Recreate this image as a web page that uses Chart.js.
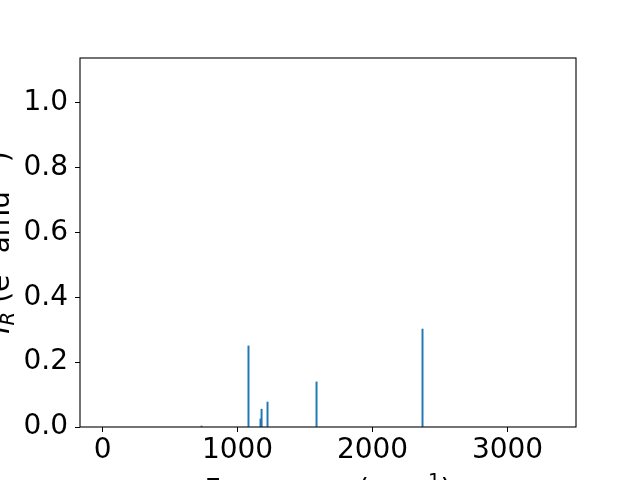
<!DOCTYPE html>
<html>
<head>
<meta charset="utf-8">
<script src="https://cdn.jsdelivr.net/npm/chart.js@4/dist/chart.umd.min.js"></script>
<style>
html,body{margin:0;padding:0;background:#fff;}
canvas{display:block;}
</style>
</head>
<body>
<canvas id="c" width="640" height="480"></canvas>
<script>
// Data
const frequencies = [733, 1081, 1170, 1178, 1222, 1585, 2370];
const intensities = [0.003, 0.250, 0.025, 0.055, 0.077, 0.139, 0.302];
const xTickValues = [0, 1000, 2000, 3000];
const yTickValues = [0, 0.2, 0.4, 0.6, 0.8, 1.0];
const xRange = [-167, 3507];
const yRange = [0, 1.1377];

const FONT = "'DejaVu Sans', sans-serif";
const BLUE = '#1f77b4';

function drawRich(ctx, segs, x, y, rot) {
  ctx.save();
  ctx.translate(x, y);
  if (rot) ctx.rotate(rot);
  ctx.textBaseline = 'alphabetic';
  ctx.textAlign = 'left';
  ctx.fillStyle = '#000';
  let total = 0;
  const ws = segs.map(s => {
    ctx.font = (s.italic ? 'oblique ' : '') + s.size + 'px ' + FONT;
    const w = ctx.measureText(s.t).width;
    total += w;
    return w;
  });
  let cx = -total / 2;
  segs.forEach((s, i) => {
    ctx.font = (s.italic ? 'oblique ' : '') + s.size + 'px ' + FONT;
    ctx.fillText(s.t, cx, s.dy || 0);
    cx += ws[i];
  });
  ctx.restore();
}

const framePlugin = {
  id: 'frame',
  afterDraw(chart) {
    const ctx = chart.ctx;
    const a = chart.chartArea;
    ctx.save();
    ctx.strokeStyle = '#000';
    ctx.lineWidth = 1.1;
    ctx.strokeRect(a.left, a.top, a.right - a.left, a.bottom - a.top);
    ctx.restore();
    const midX = (a.left + a.right) / 2;
    const midY = (a.top + a.bottom) / 2;
    drawRich(ctx, [
      {t: 'Frequency (cm', size: 28},
      {t: '\u22121', size: 19.6, dy: -12},
      {t: ')', size: 28}
    ], midX, 499, 0);
    drawRich(ctx, [
      {t: 'I', size: 28, italic: true},
      {t: 'R', size: 19.6, italic: true, dy: 5},
      {t: ' (e', size: 28},
      {t: '2', size: 19.6, dy: -12},
      {t: ' amu', size: 28},
      {t: '\u22121', size: 19.6, dy: -12},
      {t: ')', size: 28}
    ], 9, midY, -Math.PI / 2);
  }
};

new Chart(document.getElementById('c'), {
  type: 'bar',
  data: {
    datasets: [{
      data: frequencies.map((f, i) => ({x: f, y: intensities[i]})),
      backgroundColor: BLUE,
      borderWidth: 0,
      barThickness: 1.3
    }]
  },
  options: {
    responsive: false,
    devicePixelRatio: 1,
    animation: false,
    layout: {padding: {left: 0, top: 58, right: 64, bottom: 0}},
    plugins: {legend: {display: false}, tooltip: {enabled: false}},
    scales: {
      x: {
        type: 'linear',
        offset: false,
        min: xRange[0],
        max: xRange[1],
        afterFit: s => { s.height = 53; },
        afterBuildTicks: s => { s.ticks = xTickValues.map(v => ({value: v})); },
        grid: {display: true, drawOnChartArea: false, drawTicks: true, tickLength: 5, color: '#000', lineWidth: 1, offset: false},
        border: {display: false},
        ticks: {
          color: '#000', font: {family: FONT, size: 28}, padding: 2,
          maxRotation: 0, autoSkip: false,
          callback: v => String(v)
        }
      },
      y: {
        type: 'linear',
        min: yRange[0],
        max: yRange[1],
        afterFit: s => { s.width = 80; },
        afterBuildTicks: s => { s.ticks = yTickValues.map(v => ({value: v})); },
        grid: {display: true, drawOnChartArea: false, drawTicks: true, tickLength: 5, color: '#000', lineWidth: 1},
        border: {display: false},
        ticks: {
          color: '#000', font: {family: FONT, size: 28}, padding: 7,
          callback: v => Number(v).toFixed(1)
        }
      }
    }
  },
  plugins: [framePlugin]
});
</script>
</body>
</html>
